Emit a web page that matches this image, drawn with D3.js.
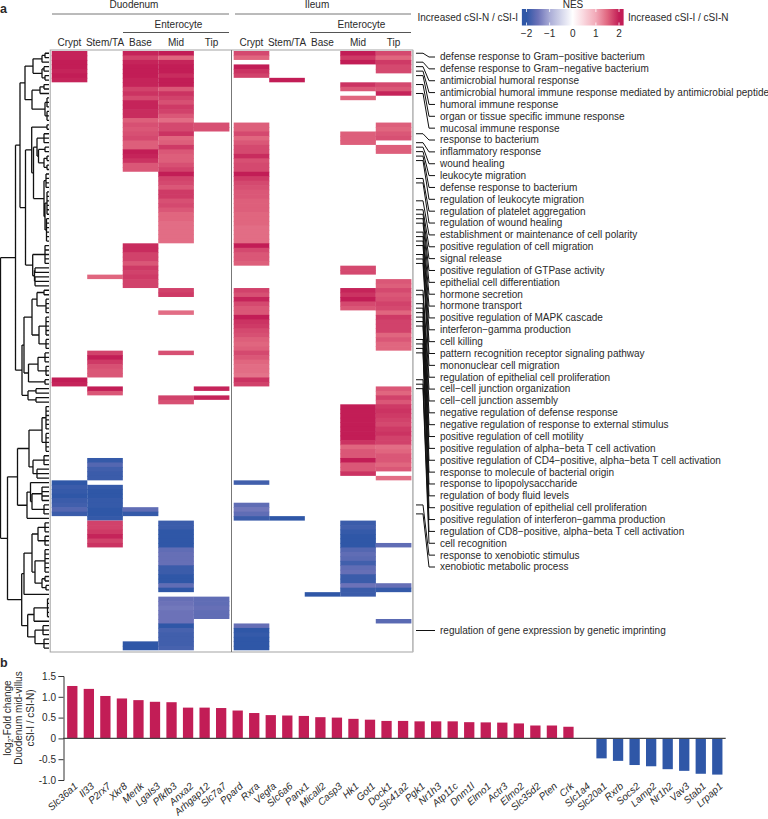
<!DOCTYPE html>
<html><head><meta charset="utf-8">
<script src="https://d3js.org/d3.v7.min.js"></script>
<style>html,body{margin:0;padding:0;background:#fff}svg{display:block}text{font-family:"Liberation Sans",Arial,sans-serif;fill:#2a2a2a}</style>
</head><body><svg id="c" width="768" height="819"></svg>
<script>
const rowCount = 134;
const colNames = ["Crypt","Stem/TA","Base","Mid","Tip"];
// NES per column: [first row, values...]
const duoCrypt = [[0,[1.95,1.95,2,2,1.95,2,1.95]],[73,[2,1.95]],[96,[-2,-1.9,-1.95,-2,-1.9,-1.85,-1.7,-1.9]]];
const duoStem = [[50,[1.5]],[67,[1.75,2,1.8,1.65,1.6,1.6]],[75,[2,1.6]],[91,[-1.95,-1.7,-1.85,-1.9,-1.9]],[97,[-1.95,-2,-2,-1.95,-1.95,-2,-2,-1.95]],[105,[1.75,1.75,1.8,1.95,1.75,1.85]]];
const duoBase = [[0,[1.95,1.75,1.95,2,2,2,1.95,1.95,1.75,1.85,1.7,1.95,1.95,1.9,1.9,1.55,1.65,1.6,1.65,1.7,1.55,1.55,2,1.95,1.85,1.6,1.6]],[43,[1.9,1.9,1.75,1.75,1.6,1.8,1.75,1.8,1.75,1.75]],[102,[-1.6,-1.95]],[132,[-2,-2]]];
const duoMid = [[0,[2,1.5,1.95,2,2,1.9,2,2,1.6,1.85,1.75,1.65,1.8,1.75,1.6,1.45,1.7,1.7,1.85,1.5,1.55,1.8,1.6,1.55,1.55,1.65,1.75,2,1.75,1.7,1.6,1.8,1.8,1.65,1.7,1.6,1.5,1.5,1.45,1.45,1.45,1.45,1.45]],[53,[1.75,1.8]],[58,[1.45]],[67,[1.65]],[77,[1.75,1.65]],[105,[-1.9,-1.9,-2,-2,-2,-2,-1.6,-1.55,-1.55,-1.55,-1.9,-1.9,-2,-2,-1.6,-2]],[122,[-1.55,-1.5,-1.45,-1.5,-1.5,-1.5,-2,-1.8,-1.85,-1.85,-1.85,-1.8]]];
const duoTip = [[16,[1.65,1.65]],[75,[1.95]],[77,[1.95]],[122,[-1.6,-1.6,-1.55,-1.6,-1.6]]];
const ileCrypt = [[0,[1.7,1.5]],[3,[2,1.85,1.75]],[16,[1.55,1.55,1.7,1.5,1.6,1.7,1.7,1.9,1.65,1.7,1.7,2,1.8,1.7,1.65,1.6,1.6,1.55,1.55,1.55,1.5,1.5,1.5,1.45,1.45,1.45,1.45,2,1.7,1.6,1.6,1.55]],[53,[1.75,1.65,1.95,1.7,1.6,1.6,2,1.85,1.8,1.7,1.65,1.55,1.5,1.55,1.7,1.6,1.5,1.45,1.45,1.4,1.85,1.75]],[96,[-1.85]],[101,[-1.6,-1.45,-1.6,-1.9]],[128,[-1.55,-2,-1.95,-2,-2,-2]]];
const ileStem = [[6,[2]],[104,[-2]]];
const ileBase = [[121,[-2]]];
const ileMid = [[0,[2,1.8,2]],[7,[1.85,1.6]],[10,[1.5]],[18,[1.55,1.55,1.55]],[48,[1.7,1.7]],[53,[1.95,1.85,2,1.7,1.6]],[79,[2,2,2,2,2,2,2,2,1.85,1.5,1.6,1.6,2.05,1.6,1.6,1.85]],[105,[-1.9,-1.85,-1.95,-2,-2,-2,-1.7,-1.6,-1.65,-1.85,-1.6,-1.55,-1.9,-1.9,-1.5,-1.9,-1.9]]];
const ileTip = [[0,[1.7,1.5,1.8,1.7,1.7]],[7,[1.7,1.6,1.95]],[16,[1.55,1.5,1.6,1.65]],[21,[1.55,1.55]],[51,[1.6,1.55,1.7,1.6,1.65,1.75,1.7,1.5,1.8,1.75,1.75,1.75,1.5,1.6,1.5,1.5]],[75,[1.6,1.5,1.75,1.6,1.8,1.85,1.8,1.75,1.7,1.8,1.85,1.75,1.75,1.45,1.5,1.6,1.6,1.5,1.6]],[95,[1.45]],[110,[-1.6]],[119,[-1.55,-1.95]],[127,[-1.65]]];
const duoCols = [duoCrypt,duoStem,duoBase,duoMid,duoTip];
const ileCols = [ileCrypt,ileStem,ileBase,ileMid,ileTip];

const termLabels = ["defense response to Gram\u2212positive bacterium","defense response to Gram\u2212negative bacterium","antimicrobial humoral response","antimicrobial humoral immune response mediated by antimicrobial peptide","humoral immune response","organ or tissue specific immune response","mucosal immune response","response to bacterium","inflammatory response","wound healing","leukocyte migration","defense response to bacterium","regulation of leukocyte migration","regulation of platelet aggregation","regulation of wound healing","establishment or maintenance of cell polarity","positive regulation of cell migration","signal release","positive regulation of GTPase activity","epithelial cell differentiation","hormone secretion","hormone transport","positive regulation of MAPK cascade","interferon\u2212gamma production","cell killing","pattern recognition receptor signaling pathway","mononuclear cell migration","regulation of epithelial cell proliferation","cell\u2212cell junction organization","cell\u2212cell junction assembly","negative regulation of defense response","negative regulation of response to external stimulus","positive regulation of cell motility","positive regulation of alpha\u2212beta T cell activation","positive regulation of CD4\u2212positive, alpha\u2212beta T cell activation","response to molecule of bacterial origin","response to lipopolysaccharide","regulation of body fluid levels","positive regulation of epithelial cell proliferation","positive regulation of interferon\u2212gamma production","regulation of CD8\u2212positive, alpha\u2212beta T cell activation","cell recognition","response to xenobiotic stimulus","xenobiotic metabolic process"];
const termRows = [0,2,3,4,5,7,9,18,20,21,22,23,24,28,29,33,35,36,37,38,40,41,42,43,45,46,47,53,54,56,57,58,59,60,61,64,65,66,67,73,74,75,101,103];
const imprintLabel = "regulation of gene expression by genetic imprinting";

// dendrogram: [merge distance, children...]; 1 = leaf
const A1 = [33,[42,[45,1,1],1],[42,[44,1,1],[45,1,1]]];
const A2 = [32,[40,[44,1,1],1],[45,[47,1,1,1],[47,1,1,1]]];
const R1 = [37,[44,1,1,1],[38.5,[45,1,1],[44,[47,1,1],[47,1,1]]]];
const R2 = [44,[46,1,1,1,1],[45,[47,1,1,1,1,1,1],[46.5,1,1,1,1,1,1]]];
const B = [31.7,[47,1,1],[33.5,R1,R2]];
const C = [32.7,[45,1,1,1,1,1],[34.5,[35,1,1],[35,1,1,1]]];
const L1 = [20,[25,A1,A2],[25.5,B,C]];
const L2 = [22,[24,[32,[37,[44,1,1],[46,1,1,1,1]],[39,[46,1,1,1,1,1],[46,1,1,1]]],[28.5,[38,[45,1,1,1],[46,1,1,1]],[45,1,1]]],[28,[36,1,1],[36,1,1]]];
const S1a = [29,[42,[46,1,1,1,1,1,1],[46,1,1,1,1,1]],[33,[44,1,1,1],[37,1,1,1]]];
const S1b = [27,[30.5,1,[32,[42,1,1,1,1],[44,1,1,1]]],1];
const T1 = [24,[32,[38,[45,1,1,1],[45,1,1,1]],[35,[45,1,1,1,1,1,1],[42,[45,1,1],[46,1,1]]]],1];
const T2 = [27.7,[34,[47.5,1,1,1,1,1],1],[35,[43,1,1,1],[44,1,1,1]]];
const tree = [0.5,[15.5,L1,L2],[7.5,[17.5,S1a,S1b],[21.7,T1,T2]]];

const genes = ["Slc36a1","Il33","P2rx7","Xkr8","Mertk","Lgals3","Pfkfb3","Anxa2","Arhgap12","Slc7a7","Ppard","Rxra","Vegfa","Slc6a6","Panx1","Micall2","Casp3","Hk1","Got1","Dock1","Slc41a2","Pgk1","Nr1h3","Atp11c","Dnm1l","Elmo1","Actr3","Elmo2","Slc35d2","Pten","Crk","Slc1a4","Slc20a1","Rxrb","Socs2","Lamp2","Nr1h2","Vav3","Stab1","Lrpap1"];
const foldChange = [1.26,1.19,1.02,0.96,0.92,0.88,0.87,0.74,0.74,0.73,0.67,0.61,0.56,0.55,0.54,0.51,0.5,0.47,0.45,0.42,0.42,0.41,0.41,0.41,0.39,0.385,0.38,0.36,0.31,0.31,0.28,0,-0.48,-0.54,-0.64,-0.67,-0.74,-0.78,-0.85,-0.87];
const yTicks = [1.5,1,0.5,0,-0.5,-1];
const yTickLabels = ["1.5","1.0","0.5","0","-0.5","-1.0"];

const svg = d3.select("#c");
const FS = 10;
const color = d3.scaleLinear().domain([-2,-1.5,-1,0,1,1.5,2]).range(["#2f57a7","#6c72b8","#a9acd6","#ffffff","#f2a9b8","#e0667f","#c21d56"]).clamp(true);
const yRow = d3.scaleBand().domain(d3.range(rowCount)).range([51,650.3]);
const xDuo = d3.scaleBand().domain(colNames).range([51.7,229.3]);
const xIle = d3.scaleBand().domain(colNames).range([233.7,411.3]);

function drawTissue(cols,x){
  const g = svg.append("g");
  cols.forEach((col,ci)=>{
    const cells = col.flatMap(([s,vals])=>vals.map((v,i)=>({r:s+i,v,last:i===vals.length-1})));
    g.selectAll(null).data(cells).join("rect")
      .attr("x",x(colNames[ci])).attr("width",x.bandwidth()+0.1)
      .attr("y",d=>yRow(d.r)).attr("height",d=>yRow.bandwidth()+(d.last?0:0.7))
      .attr("fill",d=>color(d.v));
  });
  svg.selectAll(null).data(colNames).join("text").attr("x",d=>x(d)+x.bandwidth()/2).attr("y",45.5)
    .attr("text-anchor","middle").attr("font-size",FS).text(d=>d);
}
drawTissue(duoCols,xDuo); drawTissue(ileCols,xIle);

// panel frame
svg.append("rect").attr("x",50.2).attr("y",50).attr("width",362.5).attr("height",602).attr("fill","none").attr("stroke","#a3a3a3").attr("stroke-width",1);
svg.append("line").attr("x1",412.9).attr("x2",412.9).attr("y1",50).attr("y2",652).attr("stroke","#bdbdbd").attr("stroke-width",1.6);
svg.append("line").attr("x1",231.5).attr("x2",231.5).attr("y1",50).attr("y2",652).attr("stroke","#777").attr("stroke-width",1);

// headers
[["Duodenum",134,52,229],["Ileum",317,235,411]].forEach(([t,cx,a,b])=>{
  svg.append("text").attr("x",cx).attr("y",8).attr("text-anchor","middle").attr("font-size",FS).text(t);
  svg.append("line").attr("x1",a).attr("x2",b).attr("y1",14).attr("y2",14).attr("stroke","#777").attr("stroke-width",1);
});
[[178.5,123,229],[361.5,310,411]].forEach(([cx,a,b])=>{
  svg.append("text").attr("x",cx).attr("y",28).attr("text-anchor","middle").attr("font-size",FS).text("Enterocyte");
  svg.append("line").attr("x1",a).attr("x2",b).attr("y1",32.5).attr("y2",32.5).attr("stroke","#555").attr("stroke-width",1);
});
svg.append("text").attr("x",0).attr("y",13).attr("font-size",12.5).attr("font-weight","bold").attr("fill","#111").text("a");
svg.append("text").attr("x",0).attr("y",667).attr("font-size",12.5).attr("font-weight","bold").attr("fill","#111").text("b");

// legend
const xNes = d3.scaleLinear().domain([-2,2]).range([526.5,619]);
const defs = svg.append("defs");
const grad = defs.append("linearGradient").attr("id","nes");
d3.range(-2.2,2.21,0.1).forEach(v=>grad.append("stop").attr("offset",(v+2.2)/4.4).attr("stop-color",color(v)));
svg.append("rect").attr("x",xNes(-2.2)).attr("y",9).attr("width",xNes(2.2)-xNes(-2.2)).attr("height",16.5).attr("fill","url(#nes)");
[-2,-1,0,1,2].forEach(v=>{
  [[9,12],[22.5,25.5]].forEach(([a,b])=>svg.append("line").attr("x1",xNes(v)).attr("x2",xNes(v)).attr("y1",a).attr("y2",b).attr("stroke","#fff").attr("stroke-width",0.8));
  svg.append("text").attr("x",xNes(v)).attr("y",37).attr("text-anchor","middle").attr("font-size",FS).text(v<0?"\u2212"+(-v):v);
});
svg.append("text").attr("x",573).attr("y",8).attr("text-anchor","middle").attr("font-size",FS).text("NES");
svg.append("text").attr("x",518).attr("y",21).attr("text-anchor","end").attr("font-size",FS).text("Increased cSI-N / cSI-I");
svg.append("text").attr("x",628).attr("y",21).attr("font-size",FS).text("Increased cSI-I / cSI-N");

// dendrogram
const xDist = d3.scaleLinear().domain([0,49]).range([0,49]);
const root = d3.hierarchy(tree,d=>Array.isArray(d)?d.slice(1):null);
let leaf=0;
root.eachAfter(n=>{
  if(!n.children){n.py=yRow(leaf)+yRow.bandwidth()/2;n.px=xDist(49);leaf++;}
  else{n.py=(n.children[0].py+n.children[n.children.length-1].py)/2;n.px=xDist(n.data[0]);}
});
const dp=d3.path();
root.each(n=>{ if(n.children){
  dp.moveTo(n.px,n.children[0].py);dp.lineTo(n.px,n.children[n.children.length-1].py);
  n.children.forEach(c=>{dp.moveTo(n.px,c.py);dp.lineTo(c.px,c.py);});
}});
svg.append("path").attr("d",dp.toString()).attr("fill","none").attr("stroke","#111").attr("stroke-width",1.3);

// term connectors and labels
const yTerm = d3.scalePoint().domain(d3.range(termLabels.length)).range([57,567]);
const rowMid = r=>yRow(r)+yRow.bandwidth()/2;
const cp=d3.path();
termRows.forEach((r,i)=>{
  cp.moveTo(416,rowMid(r));cp.lineTo(423,rowMid(r));cp.lineTo(429,yTerm(i));cp.lineTo(435,yTerm(i));
});
const yImp=630.5;
cp.moveTo(416,yImp);cp.lineTo(435,yImp);
svg.append("path").attr("d",cp.toString()).attr("fill","none").attr("stroke","#111").attr("stroke-width",1);
svg.selectAll(null).data(termLabels).join("text").attr("x",440).attr("y",(d,i)=>yTerm(i)+3.4).attr("font-size",FS).text(d=>d);
svg.append("text").attr("x",440).attr("y",yImp+3.4).attr("font-size",FS).text(imprintLabel);

// bars
const xGene = d3.scalePoint().domain(genes).range([72.3,717.3]);
const yFc = d3.scaleLinear().domain([-1,1.5]).range([780,676]);
const barW=10.3;
svg.selectAll(null).data(genes.map((g,i)=>({g,v:foldChange[i]})).filter(d=>d.v!==0)).join("rect")
  .attr("x",d=>xGene(d.g)-barW/2).attr("width",barW)
  .attr("y",d=>yFc(Math.max(0,d.v))).attr("height",d=>Math.abs(yFc(d.v)-yFc(0)))
  .attr("fill",d=>d.v>=0?"#c21d56":"#2f57a7");
const ax = svg.append("g").attr("transform","translate(63.5,0)").call(d3.axisLeft(yFc).tickValues(yTicks).tickSize(5).tickFormat((d,i)=>yTickLabels[i]));
ax.selectAll("path,line").attr("stroke","#333");
ax.selectAll("text").attr("font-size",FS).attr("font-family",'"Liberation Sans",Arial,sans-serif').attr("fill","#2a2a2a").attr("dx",0.5);
svg.append("line").attr("x1",63).attr("x2",725.7).attr("y1",yFc(0)).attr("y2",yFc(0)).attr("stroke","#444").attr("stroke-width",1.1);
svg.selectAll(null).data(genes).join("text").attr("font-size",FS).attr("font-style","italic").attr("text-anchor","end")
  .attr("transform",d=>`translate(${xGene(d)+6},787) rotate(-42)`).text(d=>d);

// y title
const yTitle = svg.append("g").attr("transform","translate(0,718) rotate(-90)").attr("text-anchor","middle").attr("font-size",FS);
const t1 = yTitle.append("text").attr("x",0).attr("y",10.5);
t1.append("tspan").text("log");t1.append("tspan").attr("font-size",6.5).attr("dy",2).text("2");t1.append("tspan").attr("dy",-2).text("-Fold change");
yTitle.append("text").attr("x",0).attr("y",22).text("Duodenum mid-villus");
yTitle.append("text").attr("x",0).attr("y",34).text("cSI-I / cSI-N)");
</script></body></html>
